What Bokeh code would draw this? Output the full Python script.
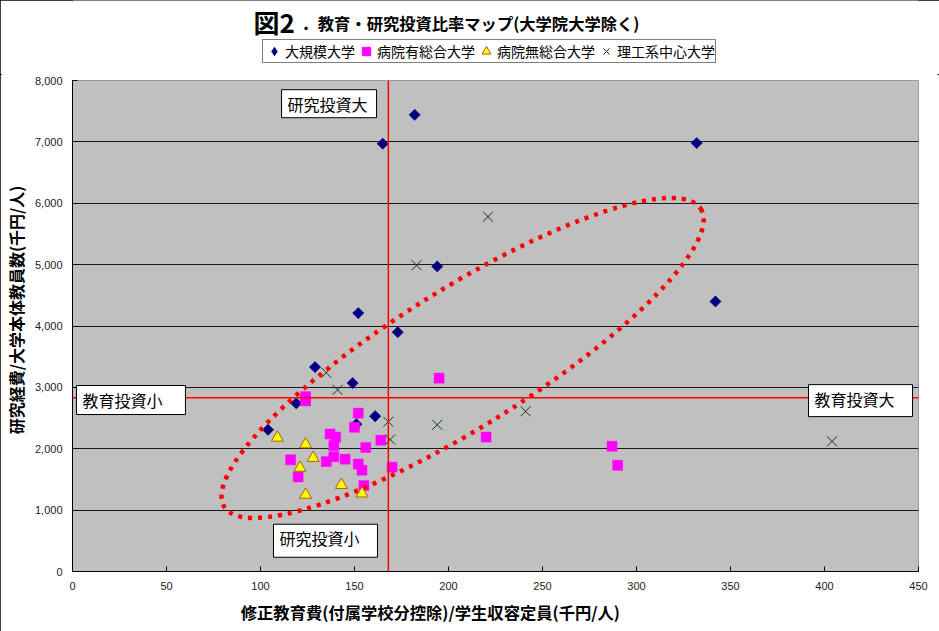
import math

from bokeh.plotting import figure
from bokeh.layouts import column
from bokeh.models import (Range1d, Span, Label, Legend, LegendItem,
                          FixedTicker, NumeralTickFormatter)
from bokeh.embed import file_html
from bokeh.resources import INLINE

# 大規模大学
large_x = [165, 182, 332, 342, 194, 152, 173, 129, 149, 104, 119, 161, 151]
large_y = [6970, 7440, 6980, 4400, 4970, 4210, 3900, 3330, 3070, 2310, 2740, 2530, 2400]

# 病院有総合大学
med_x = [195, 124, 124, 152, 150, 164, 156, 137, 140, 139, 139, 135, 145, 116,
         152, 154, 120, 170, 155, 220, 287, 290]
med_y = [3150, 2850, 2780, 2580, 2350, 2140, 2020, 2240, 2190, 2050, 1870, 1790, 1830, 1820,
         1750, 1650, 1540, 1700, 1400, 2190, 2040, 1730]

# 病院無総合大学
nomed_x = [109, 124, 128, 121, 143, 124, 154]
nomed_y = [2180, 2070, 1850, 1690, 1410, 1250, 1270]

# 理工系中心大学
sci_x = [135, 141, 168, 169, 194, 221, 183, 241, 404]
sci_y = [3240, 2960, 2440, 2150, 2390, 5780, 4990, 2610, 2120]

series_names = ["大規模大学", "病院有総合大学", "病院無総合大学", "理工系中心大学"]
series_x = [large_x, med_x, nomed_x, sci_x]
series_y = [large_y, med_y, nomed_y, sci_y]

# reference lines (education / research investment thresholds)
edu_threshold = 168
research_threshold = 2830

x_ticks = [0, 50, 100, 150, 200, 250, 300, 350, 400, 450]
y_ticks = [0, 1000, 2000, 3000, 4000, 5000, 6000, 7000, 8000]

JP = "Noto Sans CJK JP"
WIDE_SPACE = "\u3000"

# marker styles in the chart
styles = [
    dict(marker="square", angle=math.pi / 4, size=8, fill_color="#000080",
         line_color="#000080", line_width=0.5),
    dict(marker="square", size=10, fill_color="#FF00FF", line_color="#FF00FF", line_width=0.5),
    dict(marker="triangle", size=12, fill_color="#FFFF00", line_color="#B05A10", line_width=1),
    dict(marker="x", size=14, line_color="#0B3D0B", line_width=1),
]
# marker styles in the legend strip
key_styles = [dict(st) for st in styles]
key_styles[0] = dict(marker="diamond", size=14, fill_color="#000080",
                     line_color="#000080", line_width=0.5)

# ---------------------------------------------------------------- header strip
# the strip's frame lines up with the chart frame below it; its x range is
# expressed in page pixels so the title and key sit where they should
FRAME_L, FRAME_R = 72, 918
HEAD_H = 74
head = figure(width=939, height=HEAD_H, output_backend="svg", toolbar_location=None,
              x_range=Range1d(FRAME_L, FRAME_R), y_range=Range1d(0, HEAD_H),
              x_axis_location=None, y_axis_location=None, min_border=0)
head.grid.visible = False
head.outline_line_color = None
head.background_fill_color = "white"
head.border_fill_color = "white"

head.add_layout(Label(x=253, y=HEAD_H - 21, text="図2",
                      text_font=JP, text_font_style="bold", text_font_size="26px",
                      text_align="left", text_baseline="middle", text_color="black"))
head.add_layout(Label(x=301, y=HEAD_H - 22, text="．教育・研究投資比率マップ(大学院大学除く)",
                      text_font=JP, text_font_style="bold", text_font_size="16.3px",
                      text_align="left", text_baseline="middle", text_color="black"))

# hidden copies of each series give the key its glyphs
key_renderers = [head.scatter(xs, ys, visible=False, **st)
                 for xs, ys, st in zip(series_x, series_y, key_styles)]
legend = Legend(items=[LegendItem(label=n, renderers=[r])
                       for n, r in zip(series_names, key_renderers)],
                location=(262 - FRAME_L, HEAD_H - 63), orientation="horizontal",
                border_line_color="black", border_line_width=1,
                background_fill_color="white", background_fill_alpha=1,
                label_text_font=JP, label_text_font_size="14px", label_text_color="black",
                glyph_width=22, glyph_height=22, label_height=20, label_standoff=0,
                spacing=0, padding=0, margin=0, click_policy="none")
head.add_layout(legend)

# ---------------------------------------------------------------- main chart
p = figure(width=939, height=631 - HEAD_H, output_backend="svg", toolbar_location=None,
           x_range=Range1d(0, 450), y_range=Range1d(0, 8000),
           min_border_left=FRAME_L, min_border_right=939 - FRAME_R, min_border_top=6,
           min_border_bottom=60)

p.background_fill_color = "#C0C0C0"
p.border_fill_color = "white"
p.outline_line_color = "#999999"
p.outline_line_width = 1

p.xgrid.visible = False
p.ygrid.grid_line_color = "#1a1a1a"
p.ygrid.grid_line_width = 1

for ax in (p.xaxis[0], p.yaxis[0]):
    ax.axis_line_color = "black"
    ax.axis_line_width = 1
    ax.major_tick_in = 5
    ax.major_tick_out = 0
    ax.major_tick_line_color = "black"
    ax.minor_tick_line_color = None
    ax.major_label_text_color = "#222222"
    ax.major_label_text_font_size = "11px"
    ax.axis_label_text_font = JP
    ax.axis_label_text_font_style = "bold"
    ax.axis_label_text_color = "black"

p.xaxis.ticker = FixedTicker(ticks=x_ticks)
p.yaxis.ticker = FixedTicker(ticks=y_ticks)
p.yaxis.formatter = NumeralTickFormatter(format="0,0")
p.xaxis.major_label_text_font = "Liberation Sans Narrow, Liberation Sans"
p.yaxis.major_label_text_font = "Liberation Sans"
p.xaxis.major_label_standoff = 10
p.yaxis.major_label_standoff = 10

# axis titles sit off-centre: wide spaces nudge them along their axes
p.xaxis.axis_label = "修正教育費(付属学校分控除)/学生収容定員(千円/人)" + WIDE_SPACE * 8
p.yaxis.axis_label = WIDE_SPACE * 2 + "研究経費/大学本体教員数(千円/人)"
p.xaxis.axis_label_text_font_size = "16.3px"
p.yaxis.axis_label_text_font_size = "16px"
p.xaxis.axis_label_standoff = 7
p.yaxis.axis_label_standoff = 4

# threshold cross-hair
p.add_layout(Span(location=edu_threshold, dimension="height",
                  line_color="red", line_width=1.5))
p.add_layout(Span(location=research_threshold, dimension="width",
                  line_color="red", line_width=1.5))

for xs, ys, st in zip(series_x, series_y, styles):
    p.scatter(xs, ys, **st)

# dotted oval around the main cluster
p.ellipse(x=207.5, y=3480, width=562, height=138, angle=math.radians(32),
          width_units="screen", height_units="screen",
          fill_alpha=0, line_color="#FF0000", line_width=4.5, line_dash="4 6")

# quadrant captions
def caption(text, x, y, right_pad, bottom_pad=2):
    p.add_layout(Label(x=x, y=y, text=text, anchor="top_left",
                       text_font=JP, text_font_size="16px", text_color="black",
                       background_fill_color="white", background_fill_alpha=1,
                       border_line_color="black", border_line_width=1,
                       padding=dict(left=6, right=right_pad, top=2, bottom=bottom_pad)))

caption("研究投資大", 111.2, 7850, 9)
caption("教育投資小", 2.1, 3030, 23, 3)
caption("研究投資小", 106.9, 770, 18, 7)
caption("教育投資大", 391.5, 3045, 18, 6)

page = column(head, p, spacing=0)
page.styles = {"outline": "2px solid black", "outline-offset": "-2px"}

open("out.html", "w").write(file_html(page, INLINE))
